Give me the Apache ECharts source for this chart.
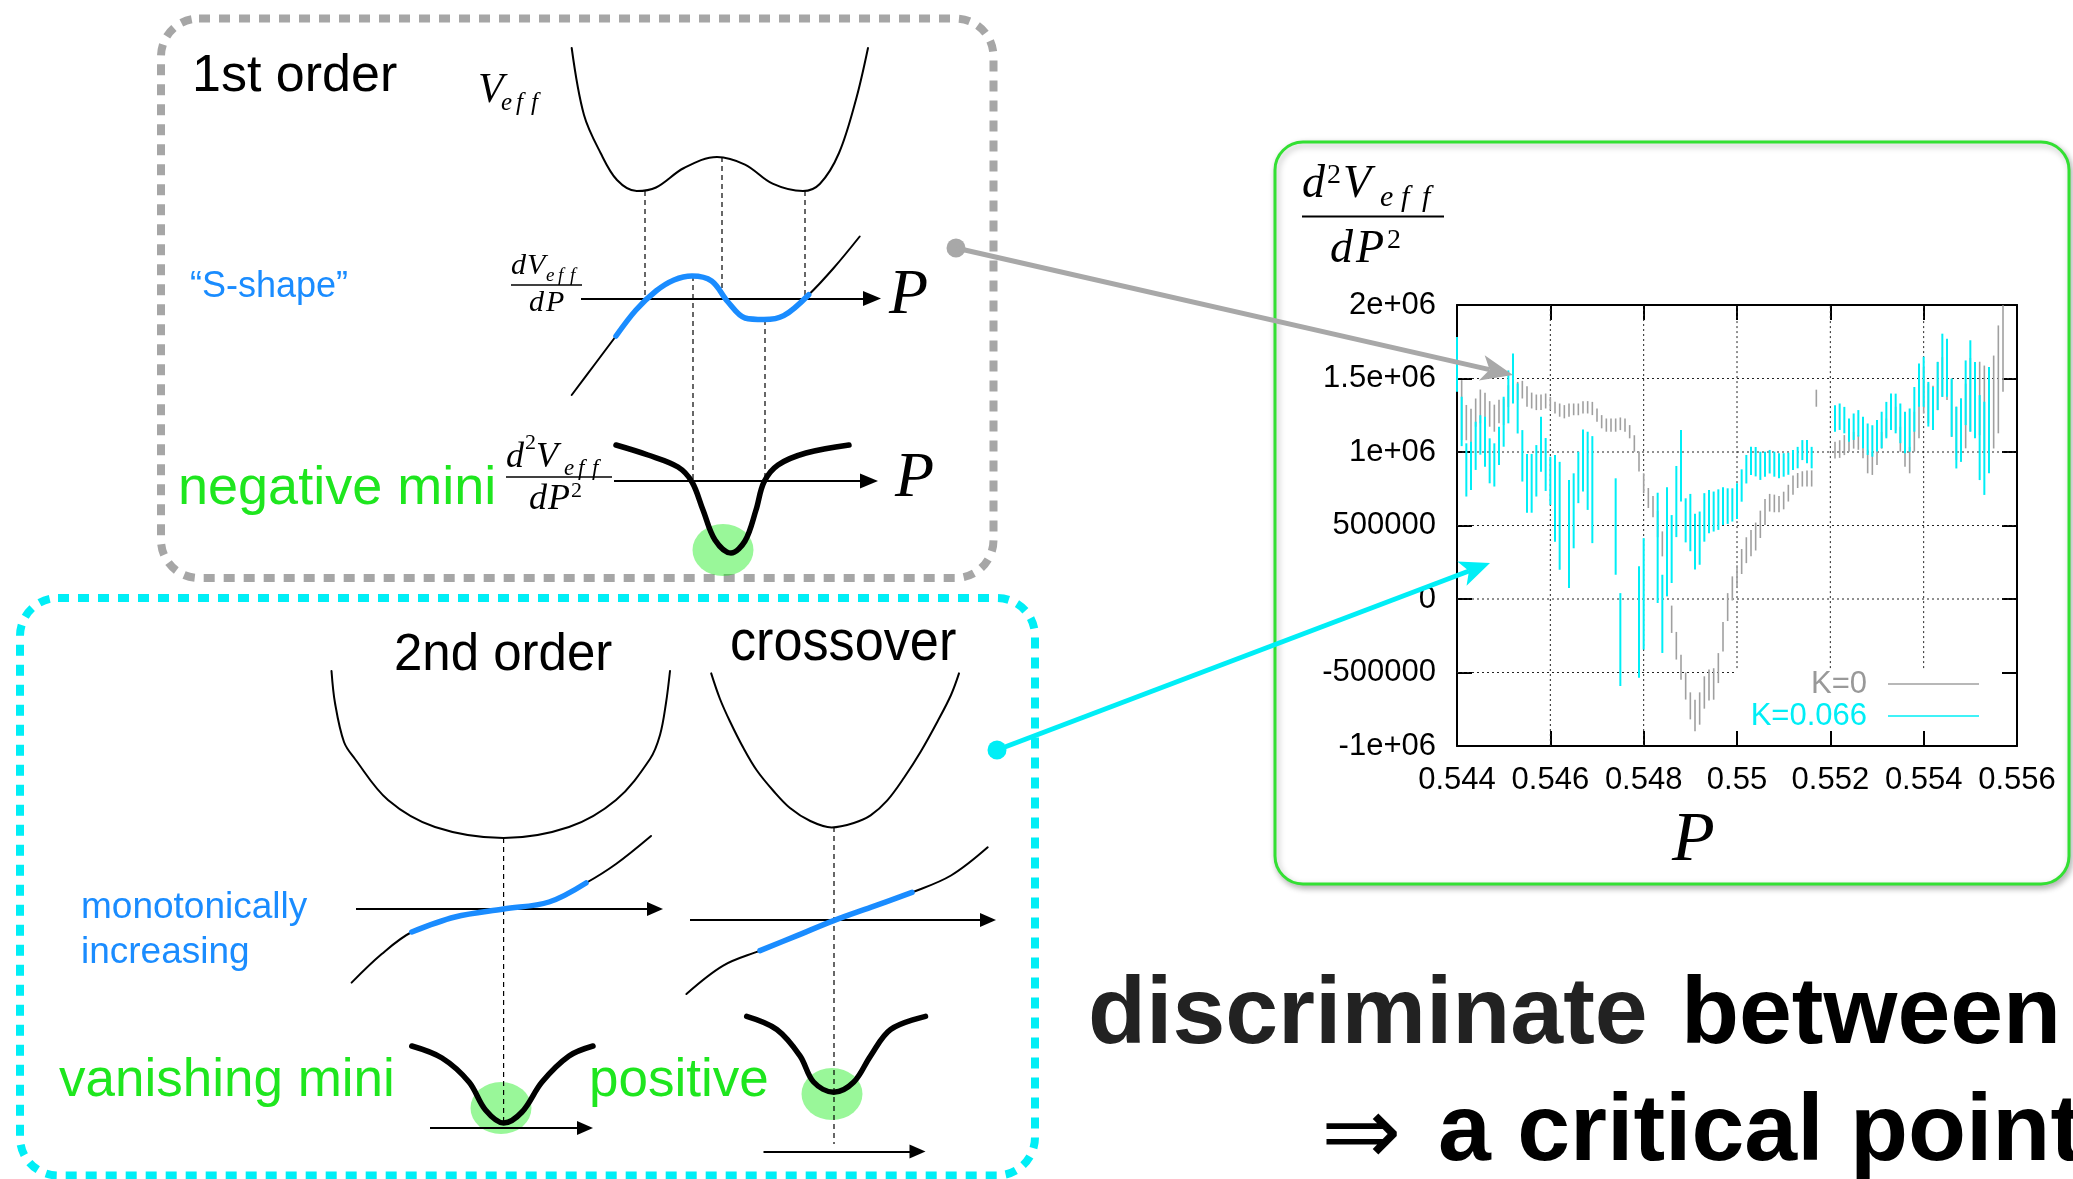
<!DOCTYPE html>
<html>
<head>
<meta charset="utf-8">
<script src="https://cdn.jsdelivr.net/npm/echarts@6/dist/echarts.min.js"></script>
<style>
  html, body { margin: 0; padding: 0; background: #fff; }
  #main { width: 2073px; height: 1179px; }
</style>
</head>
<body>
<div id="main"></div>
<script>
// ---------------------------------------------------------------
// Measured curvature d2Veff/dP2 (values in units of 1e6) vs P
// ---------------------------------------------------------------
const SCALE = 1e6;

const P = [
  0.5440, 0.5441, 0.5442, 0.5443, 0.5444, 0.5445, 0.5446, 0.5447, 0.5448, 0.5449,
  0.5450, 0.5451, 0.5452, 0.5453, 0.5454, 0.5455, 0.5456, 0.5457, 0.5458, 0.5459,
  0.5460, 0.5461, 0.5462, 0.5463, 0.5464, 0.5465, 0.5466, 0.5467, 0.5468, 0.5469,
  0.5470, 0.5471, 0.5472, 0.5473, 0.5474, 0.5475, 0.5476, 0.5477, 0.5478, 0.5479,
  0.5480, 0.5481, 0.5482, 0.5483, 0.5484, 0.5485, 0.5486, 0.5487, 0.5488, 0.5489,
  0.5490, 0.5491, 0.5492, 0.5493, 0.5494, 0.5495, 0.5496, 0.5497, 0.5498, 0.5499,
  0.5500, 0.5501, 0.5502, 0.5503, 0.5504, 0.5505, 0.5506, 0.5507, 0.5508, 0.5509,
  0.5510, 0.5511, 0.5512, 0.5513, 0.5514, 0.5515, 0.5516, 0.5517, 0.5518, 0.5519,
  0.5520, 0.5521, 0.5522, 0.5523, 0.5524, 0.5525, 0.5526, 0.5527, 0.5528, 0.5529,
  0.5530, 0.5531, 0.5532, 0.5533, 0.5534, 0.5535, 0.5536, 0.5537, 0.5538, 0.5539,
  0.5540, 0.5541, 0.5542, 0.5543, 0.5544, 0.5545, 0.5546, 0.5547, 0.5548, 0.5549,
  0.5550, 0.5551, 0.5552, 0.5553, 0.5554, 0.5555, 0.5556, 0.5557
];

// K = 0
const k0Mean = [
  null, 1.285, 1.200, 1.160, 1.268, 1.310, 1.265, 1.259, 1.230, 1.275,
  1.273, 1.380, 1.430, 1.415, 1.424, 1.378, 1.350, 1.338, 1.338, 1.347,
  1.330, 1.302, 1.285, 1.274, 1.285, 1.290, 1.290, 1.304, 1.304, 1.296,
  1.251, 1.206, 1.183, 1.183, 1.183, 1.192, 1.183, 1.138, 1.058, 0.935,
  0.787, 0.687, 0.628, 0.510, 0.375, 0.104, -0.138, -0.318, -0.465, -0.592,
  -0.727, -0.792, -0.745, -0.636, -0.585, -0.578, -0.470, -0.257, -0.055, 0.072,
  0.152, 0.255, 0.332, 0.380, 0.425, 0.508, 0.592, 0.655, 0.650, 0.645,
  0.670, 0.720, 0.775, 0.806, 0.817, 0.820, 0.820, 1.366, null, null,
  null, 1.013, 1.020, 1.047, 1.070, 1.080, 1.065, 1.030, 0.935, 0.923,
  0.980, 1.080, 1.166, 1.240, 1.228, 1.087, 0.980, 0.945, 1.138, 1.245,
  1.420, 1.330, 1.300, 1.449, 1.510, 1.500, 1.300, 1.127, 1.149, 1.245,
  1.390, 1.400, 1.364, 1.300, 1.353, 1.340, 1.494, 1.704
];
const k0Err = [
  null, 0.204, 0.120, 0.135, 0.096, 0.115, 0.138, 0.087, 0.092, 0.080,
  0.090, 0.074, 0.072, 0.062, 0.060, 0.070, 0.054, 0.053, 0.053, 0.051,
  0.045, 0.040, 0.045, 0.045, 0.045, 0.040, 0.040, 0.042, 0.042, 0.045,
  0.045, 0.045, 0.045, 0.045, 0.045, 0.043, 0.045, 0.045, 0.056, 0.068,
  0.068, 0.068, 0.072, 0.090, 0.085, 0.086, 0.093, 0.094, 0.085, 0.092,
  0.092, 0.107, 0.110, 0.110, 0.105, 0.107, 0.102, 0.100, 0.095, 0.082,
  0.078, 0.085, 0.088, 0.090, 0.095, 0.093, 0.088, 0.060, 0.060, 0.055,
  0.060, 0.057, 0.065, 0.051, 0.052, 0.055, 0.055, 0.058, null, null,
  null, 0.057, 0.060, 0.068, 0.068, 0.057, 0.050, 0.073, 0.080, 0.079,
  0.068, 0.057, 0.062, 0.068, 0.080, 0.085, 0.080, 0.090, 0.136, 0.152,
  0.158, 0.135, 0.150, 0.164, 0.135, 0.147, 0.198, 0.181, 0.215, 0.220,
  0.250, 0.210, 0.250, 0.288, 0.226, 0.316, 0.367, 0.294
];

// K = 0.066
const k066Mean = [
  1.596, 1.208, 0.878, 0.906, 1.042, 1.116, 1.070, 0.940, 0.912, 1.042,
  1.206, 1.375, 1.500, 1.296, 0.974, 0.787, 0.787, 0.872, 1.053, 0.915,
  0.804, 0.685, 0.566, null, 0.442, 0.600, 0.827, 0.942, 0.872, 0.744,
  null, null, null, null, 0.493, -0.276, null, null, null, -0.157,
  0.035, null, null, 0.348, -0.101, 0.389, 0.340, 0.663, 0.906, 0.535,
  0.520, 0.390, 0.414, 0.555, 0.595, 0.595, 0.608, 0.632, 0.632, 0.640,
  0.666, 0.772, 0.883, 0.940, 0.934, 0.906, 0.917, 0.934, 0.917, 0.906,
  0.912, 0.920, 0.946, 0.962, 1.013, 1.002, 0.962, null, null, null,
  null, 1.228, 1.240, 1.217, 1.149, 1.172, 1.195, 1.132, 1.087, 1.075,
  1.110, 1.150, 1.217, 1.274, 1.262, 1.195, 1.132, 1.149, 1.290, 1.455,
  1.478, 1.325, 1.296, 1.449, 1.590, 1.573, 1.302, 1.098, 1.149, 1.403,
  1.449, 1.353, 1.098, 1.025, 1.217, null, null, null
];
const k066Err = [
  0.186, 0.168, 0.181, 0.164, 0.164, 0.134, 0.170, 0.153, 0.147, 0.130,
  0.170, 0.180, 0.170, 0.170, 0.175, 0.200, 0.200, 0.175, 0.187, 0.180,
  0.164, 0.295, 0.367, null, 0.367, 0.255, 0.175, 0.211, 0.266, 0.364,
  null, null, null, null, 0.328, 0.316, null, null, null, 0.379,
  0.379, null, null, 0.375, 0.266, 0.371, 0.231, 0.242, 0.243, 0.150,
  0.195, 0.190, 0.181, 0.165, 0.147, 0.136, 0.138, 0.128, 0.121, 0.113,
  0.121, 0.110, 0.097, 0.096, 0.100, 0.096, 0.085, 0.080, 0.085, 0.085,
  0.080, 0.075, 0.068, 0.073, 0.068, 0.079, 0.073, null, null, null,
  null, 0.090, 0.090, 0.090, 0.079, 0.090, 0.090, 0.107, 0.107, 0.107,
  0.107, 0.124, 0.124, 0.124, 0.135, 0.135, 0.141, 0.147, 0.152, 0.147,
  0.170, 0.152, 0.147, 0.164, 0.215, 0.197, 0.198, 0.210, 0.215, 0.220,
  0.311, 0.260, 0.289, 0.317, 0.362, null, null, null
];

const seriesNames = ['K=0', 'K=0.066'];

// axis ticks and their printed labels
const xTicks = [0.544, 0.546, 0.548, 0.550, 0.552, 0.554, 0.556];
const xTickLabels = ['0.544', '0.546', '0.548', '0.55', '0.552', '0.554', '0.556'];
const yTicks = [-1000000, -500000, 0, 500000, 1000000, 1500000, 2000000];
const yTickLabels = ['-1e+06', '-500000', '0', '500000', '1e+06', '1.5e+06', '2e+06'];

// corner of the key area, where the grid is not drawn
const keyCorner = [0.550, -470000];

// ---------------------------------------------------------------
// Schematic curves (sketch units, one panel each)
// ---------------------------------------------------------------
// 1st order panel
const s1V   = [[3.17,52.2],[4.4,45.5],[6.06,41.7],[7.7,39.0],[9.67,37.9],[11.6,38.25],[14.4,40.2],[17.7,41.3],[20.5,40.54],[23.26,38.63],[26.3,37.9],[28.0,38.63],[29.9,41.7],[31.6,47.05],[32.8,52.2]];
const s1dV  = [[3.17,17.5],[5.5,20.6],[7.6,23.4],[9.6,26.0],[11.6,27.9],[13.4,29.0],[15.2,29.4],[17.16,28.9],[18.8,26.8],[20.5,25.2],[22.4,25.04],[24.37,25.43],[26.87,27.53],[29.37,30.2],[31.97,33.35]];
const s1d2V = [[7.6,12.5],[10.8,11.5],[13.8,10.3],[15.2,8.8],[16.3,6.0],[17.5,3.0],[19.1,1.7],[20.5,2.9],[21.6,6.0],[22.4,8.8],[23.8,10.5],[26.6,11.7],[30.9,12.5]];
const s1Marks = [[10.5,37.9,27.15],[18.2,41.3,28.0],[26.5,37.9,27.15],[15.3,29.4,8.9],[22.5,25.0,8.9]];
const s1Axes = [[4.1,33.2,27.15],[7.4,32.9,8.9]];
const s1Dip = [18.3, 2.0];
// 2nd order panel
const s2V   = [[1.15,48.9],[1.5,45.7],[2.4,41.8],[3.5,40.1],[6.8,36.0],[11.5,33.3],[18.36,32.2],[24.9,33.3],[29.6,36.0],[33.0,40.1],[34.0,42.5],[34.6,45.7],[35.0,48.9]];
const s2dV  = [[3.16,17.74],[6.17,20.6],[9.18,22.8],[13.5,24.3],[18.36,25.1],[22.9,25.8],[26.6,27.7],[29.6,29.6],[33.1,32.4]];
const s2d2V = [[9.18,11.4],[12.2,10.2],[14.9,7.8],[16.55,5.0],[18.36,3.7],[20.2,4.8],[22.2,7.8],[24.9,10.4],[27.3,11.4]];
const s2Marks = [[18.36,32.2,3.7]];
const s2Axes = [[3.6,33.5,25.1],[11.0,26.5,3.2]];
const s2Dip = [18.1, 5.2];
// crossover panel
const s3V   = [[3.12,48.66],[4.0,46.1],[5.0,43.85],[6.33,41.22],[7.67,38.97],[9.35,36.9],[11.0,35.2],[13.03,33.9],[15.17,33.26],[17.38,33.7],[19.06,34.46],[20.73,35.96],[22.4,38.22],[24.08,40.85],[25.75,43.85],[27.1,46.5],[27.9,48.66]];
const s3dV  = [[0.64,16.6],[4.32,19.44],[8.0,20.94],[11.7,22.44],[15.37,23.94],[19.06,25.26],[23.2,26.76],[27.1,28.45],[30.77,31.27]];
const s3d2V = [[6.67,14.36],[9.68,13.05],[12.0,10.42],[13.36,7.8],[15.37,6.78],[17.38,7.8],[19.06,10.42],[21.06,13.05],[24.55,14.36]];
const s3Marks = [[15.4,33.3,1.6]];
const s3Axes = [[1.0,30.8,24.0],[8.35,23.75,0.84]];
const s3Dip = [15.2, 6.6];

// ---------------------------------------------------------------
const BLUE = '#1a8cff';
const GREEN = '#1ee61e';
const CYAN = '#00eef6';
const GRAYBAR = '#a0a0a0';
const SANS = '"Liberation Sans", Arial, Helvetica, sans-serif';
const SERIF = '"Liberation Serif", "Times New Roman", serif';

function lookup(ticks, labels, v) {
  for (let i = 0; i < ticks.length; i++) {
    if (Math.abs(ticks[i] - v) < Math.abs(ticks[1] - ticks[0]) * 1e-3) return labels[i];
  }
  return '';
}

function barData(mean, err) {
  const out = [];
  P.forEach((p, i) => {
    if (mean[i] == null) return;
    out.push([p, (mean[i] - err[i]) * SCALE, (mean[i] + err[i]) * SCALE]);
  });
  return out;
}

function errorBars(width) {
  return function (params, api) {
    const x = api.value(0);
    const a = api.coord([x, api.value(1)]);
    const b = api.coord([x, api.value(2)]);
    return {
      type: 'line',
      shape: { x1: a[0], y1: a[1], x2: b[0], y2: b[1] },
      style: { stroke: api.visual('color'), lineWidth: width }
    };
  };
}

// dotted grid, left open where the key sits
const xMin = xTicks[0], xMax = xTicks[xTicks.length - 1];
const yMin = yTicks[0], yMax = yTicks[yTicks.length - 1];
const gridSegs = [];
xTicks.slice(1, -1).forEach(x => {
  gridSegs.push([x, x >= keyCorner[0] - 1e-9 ? keyCorner[1] : yMin, x, yMax]);
});
yTicks.slice(1, -1).forEach(y => {
  gridSegs.push([xMin, y, y < keyCorner[1] ? keyCorner[0] : xMax, y]);
});

// ---------------------------------------------------------------
// schematic panels
const panels = [
  { left: 540, top: 30, width: 400, height: 540 },
  { left: 320, top: 640, width: 360, height: 520 },
  { left: 680, top: 640, width: 340, height: 520 }
];

const grids = [{ left: 1457, top: 305, width: 560, height: 441 }];
panels.forEach(p => grids.push(Object.assign({}, p)));

const tickStyle = { inside: true, length: 15, lineStyle: { color: '#000', width: 2 } };
const axisLineStyle = { show: true, onZero: false, lineStyle: { color: '#000', width: 2 } };

const xAxes = [
  {
    gridIndex: 0, type: 'value', min: xMin, max: xMax, interval: 0.002, position: 'bottom',
    axisLine: axisLineStyle, axisTick: tickStyle, splitLine: { show: false },
    axisLabel: {
      color: '#000', fontSize: 31, fontFamily: SANS, margin: 19, showMinLabel: true, showMaxLabel: true,
      formatter: v => lookup(xTicks, xTickLabels, v)
    }
  },
  {
    gridIndex: 0, type: 'value', min: xMin, max: xMax, interval: 0.002, position: 'top',
    axisLine: axisLineStyle, axisTick: tickStyle, splitLine: { show: false }, axisLabel: { show: false }
  }
];
const yAxes = [
  {
    gridIndex: 0, type: 'value', min: yMin, max: yMax, interval: 500000, position: 'left',
    axisLine: axisLineStyle, axisTick: tickStyle, splitLine: { show: false },
    axisLabel: {
      color: '#000', fontSize: 31, fontFamily: SANS, margin: 21, showMinLabel: true, showMaxLabel: true,
      formatter: v => lookup(yTicks, yTickLabels, v)
    }
  },
  {
    gridIndex: 0, type: 'value', min: yMin, max: yMax, interval: 500000, position: 'right',
    axisLine: axisLineStyle, axisTick: tickStyle, splitLine: { show: false }, axisLabel: { show: false }
  }
];
panels.forEach((p, i) => {
  xAxes.push({ gridIndex: i + 1, type: 'value', min: 0, max: p.width / 10, show: false });
  yAxes.push({ gridIndex: i + 1, type: 'value', min: 0, max: p.height / 10, show: false });
});

const series = [
  {
    type: 'custom', name: 'grid', xAxisIndex: 0, yAxisIndex: 0, silent: true, z: 1,
    encode: { x: [0, 2], y: [1, 3] },
    data: gridSegs,
    renderItem: function (params, api) {
      const a = api.coord([api.value(0), api.value(1)]);
      const b = api.coord([api.value(2), api.value(3)]);
      return {
        type: 'line',
        shape: { x1: a[0], y1: a[1], x2: b[0], y2: b[1] },
        style: { stroke: '#222', lineWidth: 1, lineDash: [2, 3] }
      };
    }
  },
  {
    type: 'custom', name: seriesNames[0], xAxisIndex: 0, yAxisIndex: 0, silent: true, z: 3,
    itemStyle: { color: GRAYBAR },
    encode: { x: 0, y: [1, 2] },
    data: barData(k0Mean, k0Err),
    renderItem: errorBars(1.6)
  },
  {
    type: 'custom', name: seriesNames[1], xAxisIndex: 0, yAxisIndex: 0, silent: true, z: 4,
    itemStyle: { color: CYAN },
    encode: { x: 0, y: [1, 2] },
    data: barData(k066Mean, k066Err),
    renderItem: errorBars(2)
  }
];

function curve(idx, data, color, width, z) {
  return {
    type: 'line', xAxisIndex: idx, yAxisIndex: idx, data: data, smooth: 0.35,
    symbol: 'none', silent: true, clip: false, z: z || 5,
    lineStyle: { color: color, width: width, cap: 'round', join: 'round' }
  };
}
function guides(idx, marks) {
  return marks.map(m => ({
    type: 'line', xAxisIndex: idx, yAxisIndex: idx, data: [[m[0], m[1]], [m[0], m[2]]],
    symbol: 'none', silent: true, clip: false, z: 4,
    lineStyle: { color: '#000', width: 1.2, type: [5, 4] }
  }));
}
function axesArrows(idx, list, size) {
  return {
    type: 'line', xAxisIndex: idx, yAxisIndex: idx, data: [], silent: true,
    markLine: {
      silent: true, animation: false, symbol: ['none', 'triangle'], symbolSize: size,
      label: { show: false }, emphasis: { disabled: true },
      lineStyle: { color: '#000', width: 2, type: 'solid' }, itemStyle: { color: '#000' },
      data: list.map(a => [{ coord: [a[0], a[2]] }, { coord: [a[1], a[2]] }])
    }
  };
}
function dip(idx, c) {
  return {
    type: 'scatter', xAxisIndex: idx, yAxisIndex: idx, data: [c], symbol: 'circle',
    symbolSize: [61, 52], silent: true, z: 2,
    itemStyle: { color: 'rgba(0,235,0,0.5)' }
  };
}

const sketchSets = [
  { V: s1V, dV: s1dV, hi: [2, 12], d2V: s1d2V, marks: s1Marks, axes: s1Axes, dip: s1Dip, head: [15, 18] },
  { V: s2V, dV: s2dV, hi: [2, 6], d2V: s2d2V, marks: s2Marks, axes: s2Axes, dip: s2Dip, head: [14, 16] },
  { V: s3V, dV: s3dV, hi: [2, 6], d2V: s3d2V, marks: s3Marks, axes: s3Axes, dip: s3Dip, head: [14, 16] }
];
sketchSets.forEach((s, i) => {
  const idx = i + 2;
  series.push(dip(idx, s.dip));
  series.push(...guides(idx, s.marks));
  series.push(axesArrows(idx, s.axes, s.head));
  series.push(curve(idx, s.V, '#000', 2));
  series.push(curve(idx, s.dV, '#000', 2));
  series.push(curve(idx, s.dV.slice(s.hi[0], s.hi[1] + 1), BLUE, 5.5, 6));
  series.push(curve(idx, s.d2V, '#000', 5.5, 6));
});

// ---------------------------------------------------------------
// slide text, frames and pointers
function T(text, x, base, size, color, o) {
  o = o || {};
  const fam = o.family || SANS;
  const font = (o.italic ? 'italic ' : '') + (o.bold ? 'bold ' : '') + size + 'px ' + fam;
  return {
    type: 'text', x: x, y: base - size * 0.28, z: 50, silent: true,
    scaleX: o.scaleX || 1,
    style: {
      text: text, font: font, fill: color,
      textAlign: 'left', textVerticalAlign: 'middle', align: 'left', verticalAlign: 'middle'
    }
  };
}
function M(text, x, base, size) { return T(text, x, base, size, '#000', { family: SERIF, italic: true }); }
function N(text, x, base, size) { return T(text, x, base, size, '#000', { family: SERIF }); }
function bar(x1, x2, y, w) {
  return { type: 'line', z: 50, silent: true, shape: { x1: x1, y1: y, x2: x2, y2: y }, style: { stroke: '#000', lineWidth: w } };
}
function pointer(x1, y1, x2, y2, color, width, headLen, headHalf, r) {
  const L = Math.hypot(x2 - x1, y2 - y1);
  const ux = (x2 - x1) / L, uy = (y2 - y1) / L;
  const px = -uy, py = ux;
  const bx = x2 - ux * headLen, by = y2 - uy * headLen;
  const nx = x2 - ux * headLen * 0.75, ny = y2 - uy * headLen * 0.75;
  return [
    { type: 'circle', z: 60, silent: true, shape: { cx: x1, cy: y1, r: r }, style: { fill: color } },
    { type: 'line', z: 60, silent: true, shape: { x1: x1, y1: y1, x2: nx, y2: ny }, style: { stroke: color, lineWidth: width } },
    { type: 'polygon', z: 60, silent: true,
      shape: { points: [[x2, y2], [bx + px * headHalf, by + py * headHalf], [nx, ny], [bx - px * headHalf, by - py * headHalf]] },
      style: { fill: color } }
  ];
}

const graphics = [
  // frames
  { type: 'rect', z: 0, silent: true, shape: { x: 161, y: 18.5, width: 832.5, height: 559.5, r: 38 },
    style: { fill: 'none', stroke: '#a6a6a6', lineWidth: 8, lineDash: [11, 9] } },
  { type: 'rect', z: 0, silent: true, shape: { x: 20, y: 598, width: 1015, height: 577.5, r: 38 },
    style: { fill: 'none', stroke: CYAN, lineWidth: 8, lineDash: [11, 9] } },
  { type: 'rect', z: 0, silent: true, shape: { x: 1275, y: 142, width: 794, height: 742, r: 28 },
    style: { fill: '#fff', stroke: '#33e033', lineWidth: 3,
      shadowBlur: 6, shadowColor: 'rgba(0,0,0,0.28)', shadowOffsetX: 2, shadowOffsetY: 3 } },

  // 1st order panel
  T('1st order', 192, 91, 52, '#000'),
  T('\u201cS-shape\u201d', 190, 297, 36, BLUE),
  T('negative mini', 178, 504, 54, GREEN),
  M('V', 478, 103, 42), M('e', 501, 110, 25), M('f', 516, 110, 25), M('f', 531, 110, 25),
  M('d', 511, 275, 30), M('V', 527, 275, 30), M('e', 546, 281, 19), M('f', 558, 281, 19), M('f', 570, 281, 19),
  bar(511, 582, 285, 1.5),
  M('d', 529, 312, 30), M('P', 546, 312, 30),
  M('P', 889, 314, 64),
  M('d', 506, 468, 36), N('2', 525, 449, 22), M('V', 536, 468, 36),
  M('e', 564, 475, 23), M('f', 578, 475, 23), M('f', 592, 475, 23),
  bar(506, 612, 477, 1.5),
  M('d', 529, 510, 36), M('P', 548, 510, 36), N('2', 571, 497, 22),
  M('P', 895, 497, 64),

  // 2nd order / crossover panel
  T('2nd order', 394, 670, 51, '#000'),
  T('crossover', 730, 660, 58, '#000', { scaleX: 0.9 }),
  T('monotonically', 81, 918, 37, BLUE),
  T('increasing', 81, 963, 37, BLUE),
  T('vanishing mini', 59, 1096, 53, GREEN),
  T('positive', 589, 1096, 53, GREEN),

  // chart titles
  M('d', 1302, 198, 46), N('2', 1327, 183, 28), M('V', 1343, 198, 46),
  M('e', 1380, 207, 30), M('f', 1401, 207, 30), M('f', 1422, 207, 30),
  bar(1302, 1444, 216.5, 2),
  M('d', 1330, 263, 46), M('P', 1356, 263, 46), N('2', 1387, 248, 28),
  M('P', 1672, 861, 70),

  // conclusion
  T('discriminate', 1088, 1043, 95, '#222', { bold: true }),
  T('between', 1681, 1043, 95, '#000', { bold: true }),
  T('\u21d2', 1321, 1166, 96, '#000', { family: '"DejaVu Sans", sans-serif' }),
  T('a critical point', 1438, 1160, 95, '#000', { bold: true })
];
graphics.push(...pointer(956, 248, 1513, 375, '#a8a8a8', 5, 32, 13, 9.5));
graphics.push(...pointer(997, 750, 1490, 563, CYAN, 5, 30, 13, 9.5));

const option = {
  backgroundColor: '#fff',
  animation: false,
  textStyle: { fontFamily: SANS },
  grid: grids,
  xAxis: xAxes,
  yAxis: yAxes,
  legend: [
    {
      right: 94, top: 668, padding: 0, orient: 'vertical', align: 'right', selectedMode: false,
      icon: 'rect', itemWidth: 91, itemHeight: 1.5,
      textStyle: { fontSize: 31, fontFamily: SANS, color: '#999', lineHeight: 32, padding: [0, 16, 0, 0] },
      data: [{ name: seriesNames[0], itemStyle: { color: GRAYBAR }, textStyle: { color: '#999' } }]
    },
    {
      right: 94, top: 700, padding: 0, orient: 'vertical', align: 'right', selectedMode: false,
      icon: 'rect', itemWidth: 91, itemHeight: 1.5,
      textStyle: { fontSize: 31, fontFamily: SANS, color: CYAN, lineHeight: 32, padding: [0, 16, 0, 0] },
      data: [{ name: seriesNames[1], itemStyle: { color: CYAN }, textStyle: { color: CYAN } }]
    }
  ],
  series: series,
  graphic: { elements: graphics }
};

const chart = echarts.init(document.getElementById('main'), null, { renderer: 'canvas', width: 2073, height: 1179 });
chart.setOption(option);
</script>
</body>
</html>
